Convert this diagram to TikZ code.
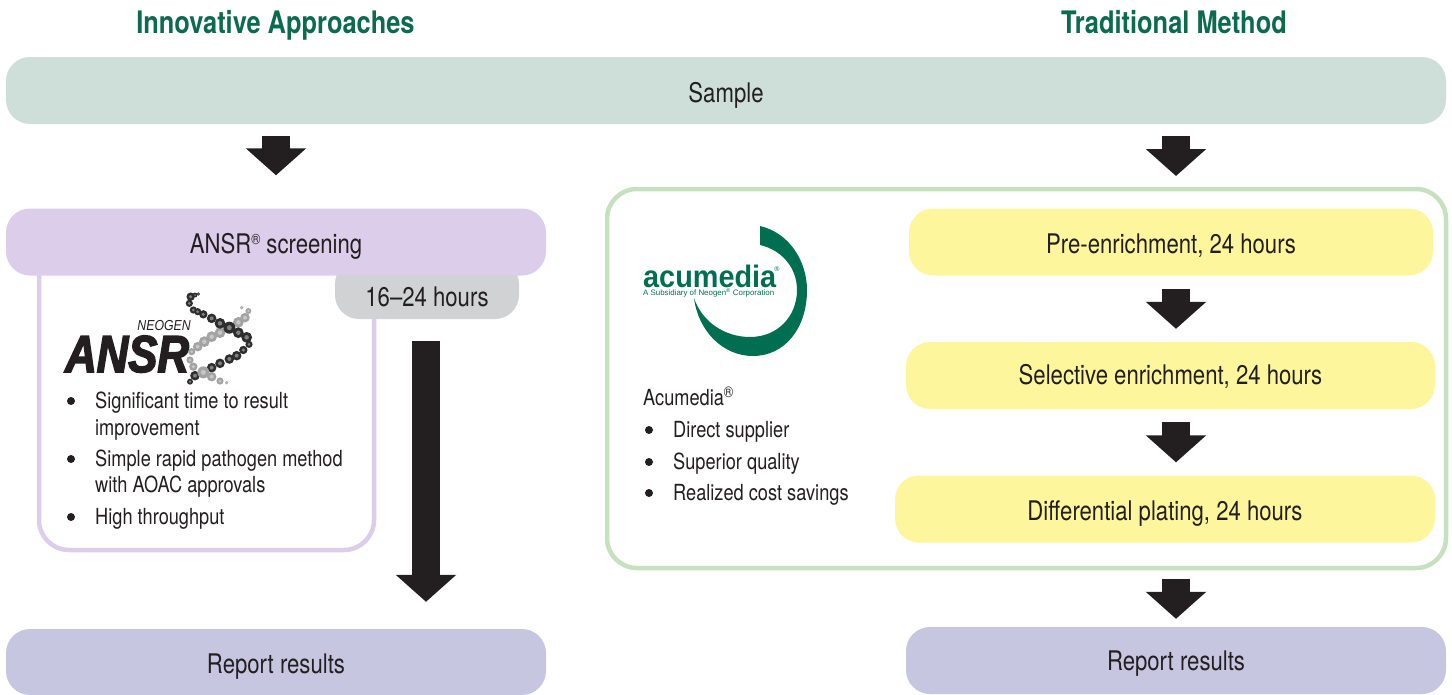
\documentclass[tikz,border=0pt]{standalone}
\usepackage{fontspec}
\setmainfont{TeX Gyre Heros}[FakeStretch=0.82]
\newfontfamily\headfont{TeX Gyre Heros}[FakeStretch=0.82]
\newfontfamily\logofont{Liberation Sans}
\newfontfamily\ansrfont{Liberation Sans}[BoldItalicFont={Liberation Sans Bold Italic},FakeStretch=0.84,FakeBold=3]
\usetikzlibrary{arrows.meta}
\definecolor{inkc}{HTML}{231F20}
\definecolor{titlec}{HTML}{0B6B4C}
\definecolor{logoc}{HTML}{006F51}
\definecolor{samplec}{HTML}{CDDFD8}
\definecolor{purplec}{HTML}{DCCDEB}
\definecolor{reportc}{HTML}{C7C6E0}
\definecolor{yellowc}{HTML}{FEF69C}
\definecolor{framec}{HTML}{C6E0C0}
\definecolor{grayc}{HTML}{D0D2D3}
\tikzset{
  x=1pt,y=-1pt,
  pill/.style={rounded corners=24pt,minimum height=#1,inner sep=0pt,text=inkc,font=\fontsize{27}{30}\selectfont,text height=23pt,text depth=0pt},
  pill/.default=67pt,
  blockarrow/.style={draw=inkc,line width=28pt,-{Triangle[length=27pt,width=59pt]}},
  heading/.style={text=titlec,font=\headfont\bfseries\fontsize{31}{34}\selectfont,inner sep=0pt,anchor=base},
  bodytext/.style={text=inkc,font=\fontsize{22.2}{24}\selectfont,anchor=base west,inner sep=0pt},
  bulletdot/.style={circle,fill=inkc,minimum size=8pt,inner sep=0pt},
}
\newcommand{\darkbeads}[1]{%
  \foreach \x/\y/\r in {#1}{
    \pgfmathsetmacro{\rout}{\r*1.2}
    \fill[black!82] ({170+\x/3},{285+\y/3}) circle[radius=\rout pt];
    \pgfmathsetmacro{\rin}{\r*0.5}
    \fill[black!50] ({170+\x/3},{285+\y/3}) circle[radius=\rin pt];}}
\newcommand{\lightbeads}[1]{%
  \foreach \x/\y/\r in {#1}{
    \pgfmathsetmacro{\rout}{\r*1.2}
    \fill[black!36] ({170+\x/3},{285+\y/3}) circle[radius=\rout pt];
    \pgfmathsetmacro{\rin}{\r*0.5}
    \fill[black!22] ({170+\x/3},{285+\y/3}) circle[radius=\rin pt];}}
\newcommand{\regmark}{\raisebox{9pt}{\fontsize{15}{15}\selectfont ®}}
\begin{document}
\begin{tikzpicture}
\useasboundingbox (0,0) rectangle (1452,694);
% headings
\node[heading] (h1) at (275.5,33) {Innovative Approaches};
\node[heading] (h2) at (1174,33) {Traditional Method};
% frames
\draw[framec,line width=4.5pt,rounded corners=30pt] (607,189) rectangle (1446,568);
\draw[purplec,line width=4.5pt,rounded corners=30pt] (39,265) -- (39,550) -- (374,550) -- (374,300);
% boxes
\node[pill,fill=samplec,minimum width=1440pt] (sample) at (726,90.5) {Sample};
\fill[grayc,rounded corners=24pt] (335,260) -- (335,319) -- (519,319) -- (519,260) -- cycle;
\node[pill,fill=purplec,minimum width=540pt] (ansr) at (276,242) {ANSR\regmark{} screening};
\node[text=inkc,font=\fontsize{27}{30}\selectfont,inner sep=0pt,anchor=base] (hours) at (427,306) {16–24 hours};
\coordinate (graybottom) at (426,319);
\node[pill,fill=reportc,minimum width=540pt,minimum height=66pt] (rep1) at (276,662) {Report results};
\node[pill,fill=yellowc,minimum width=524pt] (pre) at (1171,242) {Pre-enrichment, 24 hours};
\node[pill,fill=yellowc,minimum width=529pt,text height=17pt] (sel) at (1170.5,375.5) {Selective enrichment, 24 hours};
\node[pill,fill=yellowc,minimum width=540pt] (dif) at (1165,509) {Differential plating, 24 hours};
\node[pill,fill=reportc,minimum width=540pt,text height=19pt] (rep2) at (1176,660.5) {Report results};
% arrows
\coordinate (rx) at (1176,0);
\coordinate (framebottom) at (1176,570);
\coordinate (frametop) at (1176,188);
\draw[blockarrow,shorten <=12pt,shorten >=33pt] (sample.south -| ansr.north) -- (ansr.north);
\draw[blockarrow,shorten <=12pt,shorten >=12pt] (sample.south -| rx) -- (frametop);
\draw[blockarrow,shorten <=13pt,shorten >=13pt] (pre.south -| rx) -- (sel.north -| rx);
\draw[blockarrow,shorten <=13pt,shorten >=13pt] (sel.south -| rx) -- (dif.north -| rx);
\draw[blockarrow,shorten <=9pt,shorten >=8pt] (framebottom) -- (rep2.north -| rx);
\draw[blockarrow,shorten <=22pt,shorten >=27pt] (graybottom) -- (rep1.north -| graybottom);
% left list
\node[bulletdot] (b1) at (71,401) {};
\node[bodytext] (t1) at (95,408) {Significant time to result};
\node[bodytext] (t1b) at (95,435) {improvement};
\node[bulletdot] (b2) at (71,459) {};
\node[bodytext] (t2) at (95,466) {Simple rapid pathogen method};
\node[bodytext] (t2b) at (95,492) {with AOAC approvals};
\node[bulletdot] (b3) at (71,517) {};
\node[bodytext] (t3) at (95,524) {High throughput};
% right list
\node[bodytext] (a0) at (643,405) {Acumedia\textsuperscript{®}};
\node[bulletdot] (a1d) at (649,430) {};
\node[bodytext] (a1) at (673,437) {Direct supplier};
\node[bulletdot] (a2d) at (649,462) {};
\node[bodytext] (a2) at (673,469) {Superior quality};
\node[bulletdot] (a3d) at (649,493) {};
\node[bodytext] (a3) at (673,500) {Realized cost savings};
% acumedia logo
\fill[logoc] (760,226) .. controls (790,233) and (807,262) .. (807,290)
  .. controls (807,328) and (785,356) .. (753,356)
  .. controls (722,356) and (698,330) .. (694,298)
  .. controls (702,322) and (725,337) .. (750,337)
  .. controls (778,337) and (797,316) .. (797,290)
  .. controls (797,268) and (782,250) .. (760,245) -- cycle;
\node[anchor=base west,inner sep=0pt,text=logoc,font=\logofont\bfseries\fontsize{31}{31}\selectfont] (acu) at (643,287) {\addfontfeature{FakeStretch=0.93}acumedia};
\node[anchor=base west,inner sep=0pt,text=logoc,font=\logofont\fontsize{7.9}{8}\selectfont] (acusub) at (643,295.5) {A Subsidiary of Neogen\textsuperscript{®} Corporation};
\node[anchor=center,inner sep=0pt,text=logoc,font=\logofont\fontsize{7}{7}\selectfont] (acur) at (777,269) {®};
% ansr logo
\node[anchor=base west,inner sep=0pt,text=inkc,font=\ansrfont\bfseries\itshape\fontsize{52}{52}\selectfont] (ansrlogo) at (65,372) {ANSR};
\node[anchor=base east,inner sep=0pt,text=inkc,font=\logofont\itshape\fontsize{14.5}{14}\selectfont] (neo) at (191,330) {\addfontfeature{FakeStretch=0.85}NEOGEN};
\darkbeads{75/272/4,60/290/2.5,100/262/4,125/248/4,150/235/4,178/222/4,200/212/4,220/195/3.5,237/178/3}
\lightbeads{215/68/1.5,235/78/2.5,225/98/4,205/112/4.5,150/143/4.5,125/155/4.5,103/170/4.5,83/185/4,65/200/3,60/225/3,70/245/3.5,100/262/5,125/275/4,150/288/3,170/293/1.5}
\darkbeads{85/27/1.5,75/30/2,62/35/3.5,58/55/3,70/75/3,83/80/3,100/88/3.5,125/100/4,150/115/4.5,178/128/5,205/143/4.5,230/157/4.5}
\end{tikzpicture}
\end{document}
